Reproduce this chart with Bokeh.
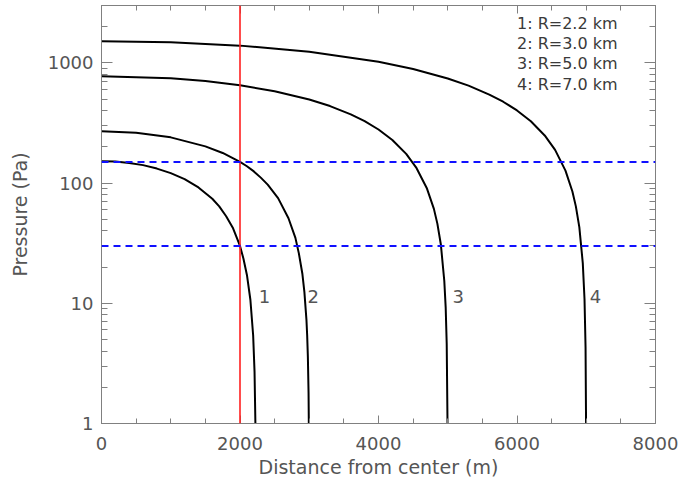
from bokeh.plotting import figure
from bokeh.models import FixedTicker, LinearAxis, LogAxis, Span, Label, CustomJSTickFormatter
from bokeh.embed import file_html
from bokeh.resources import INLINE

# ---- data ----
curve1_x = [0, 200, 400, 600, 800, 1000, 1200, 1400, 1600, 1700, 1800, 1900, 2000, 2050, 2100, 2150, 2190, 2210, 2223]
curve1_y = [152, 151, 147, 141, 132, 121, 108, 92, 74, 64, 53, 42, 30, 23.5, 17.2, 10.7, 5.4, 2.7, 0.95]

curve2_x = [0, 500, 1000, 1500, 1750, 2000, 2100, 2200, 2300, 2400, 2550, 2700, 2800, 2850, 2900, 2930, 2960, 2970, 2980, 2990, 2996]
curve2_y = [270, 262, 240, 202, 178, 150, 138, 125, 111, 97, 75, 51, 35, 26, 17.7, 12.4, 7.2, 5.4, 3.6, 1.8, 0.72]

curve3_x = [0, 1000, 1500, 2000, 2500, 3000, 3300, 3600, 3800, 4000, 4200, 4400, 4550, 4700, 4800, 4850, 4900, 4950, 4970, 4985, 4997]
curve3_y = [775, 744, 705, 651, 581, 496, 437, 373, 327, 279, 228, 175, 133, 90, 61, 46, 31, 15.4, 9.3, 4.6, 0.93]

curve4_x = [0, 1000, 2000, 3000, 4000, 4500, 5000, 5300, 5600, 5800, 6000, 6200, 6400, 6550, 6700, 6800, 6850, 6900, 6950, 6975, 6990, 6998]
curve4_y = [1515, 1484, 1391, 1237, 1020, 889, 742, 647, 545, 475, 402, 327, 249, 189, 127, 85, 64, 43, 21.6, 10.8, 4.3, 0.87]

curve_names = ["1", "2", "3", "4"]
legend_texts = ["1: R=2.2 km", "2: R=3.0 km", "3: R=5.0 km", "4: R=7.0 km"]

red_line_x = 2000
dashed_levels = [150, 30]

x_ticks = [0, 2000, 4000, 6000, 8000]
x_tick_labels = ["0", "2000", "4000", "6000", "8000"]
y_ticks = [1, 10, 100, 1000]
y_tick_labels = ["1", "10", "100", "1000"]

x_label = "Distance from center (m)"
y_label = "Pressure (Pa)"

# ---- figure ----
FONT = "DejaVu Sans"
TXT = "#555555"
AX = "#808080"

p = figure(width=690, height=481, x_range=(0, 8000), y_range=(1, 3000),
           y_axis_type="log", output_backend="svg", toolbar_location=None,
           min_border_left=101, min_border_right=35, min_border_top=5, min_border_bottom=58)
p.grid.visible = False
p.outline_line_color = AX
p.background_fill_color = "white"
p.border_fill_color = "white"

x_minor = [v for v in range(0, 8001, 500) if v not in x_ticks]
y_minor = [m * d for d in (1, 10, 100, 1000) for m in range(2, 10) if m * d <= 3000]

xt = FixedTicker(ticks=x_ticks, minor_ticks=x_minor)
yt = FixedTicker(ticks=y_ticks, minor_ticks=y_minor)


def style(ax, major_in, minor_in, show_labels):
    ax.axis_line_color = AX
    ax.major_tick_line_color = AX
    ax.minor_tick_line_color = AX
    ax.major_tick_in = major_in
    ax.major_tick_out = 0
    ax.minor_tick_in = minor_in
    ax.minor_tick_out = 0
    if show_labels:
        ax.major_label_text_font = FONT
        ax.major_label_text_font_size = "18px"
        ax.major_label_text_color = TXT
        ax.axis_label_text_font = FONT
        ax.axis_label_text_font_size = "19px"
        ax.axis_label_text_color = TXT
        ax.axis_label_text_font_style = "normal"
    else:
        ax.formatter = CustomJSTickFormatter(code="return ''")
        ax.major_label_text_font_size = "1px"
        ax.major_label_standoff = 0


xa = p.xaxis[0]
xa.ticker = xt
xa.major_label_overrides = {t: s for t, s in zip(x_ticks, x_tick_labels)}
xa.axis_label = x_label
style(xa, 8, 5, True)
xa.major_label_standoff = 13
xa.axis_label_standoff = 3

ya = p.yaxis[0]
ya.ticker = yt
ya.major_label_overrides = {t: s for t, s in zip(y_ticks, y_tick_labels)}
ya.axis_label = y_label
style(ya, 11, 6, True)
ya.major_label_standoff = 8
ya.axis_label_standoff = 14

top = LinearAxis(ticker=FixedTicker(ticks=x_ticks, minor_ticks=x_minor))
style(top, 8, 5, False)
p.add_layout(top, "above")

right = LogAxis(ticker=FixedTicker(ticks=y_ticks, minor_ticks=y_minor))
style(right, 11, 6, False)
p.add_layout(right, "right")

# reference lines
p.add_layout(Span(location=red_line_x, dimension="height", line_color="#ff2020", line_width=1.6))
for lvl in dashed_levels:
    p.add_layout(Span(location=lvl, dimension="width", line_color="#1010ff",
                      line_width=2, line_dash="7 5"))

# curves
for xs, ys in [(curve1_x, curve1_y), (curve2_x, curve2_y), (curve3_x, curve3_y), (curve4_x, curve4_y)]:
    p.line(xs, ys, line_color="black", line_width=2)

# curve labels
label_x = [2270, 2975, 5070, 7050]
for name, lx in zip(curve_names, label_x):
    p.add_layout(Label(x=lx, y=11.4, text=name, text_font=FONT, text_font_size="18px",
                       text_color=TXT, text_baseline="middle", text_align="left"))

# legend texts
legend_y = [2109, 1439, 981, 659]
for t, ly in zip(legend_texts, legend_y):
    p.add_layout(Label(x=6000, y=ly, text=t, text_font=FONT, text_font_size="16px",
                       text_color="#3a3a3a", text_baseline="middle", text_align="left"))

open("out.html", "w").write(file_html(p, INLINE))
